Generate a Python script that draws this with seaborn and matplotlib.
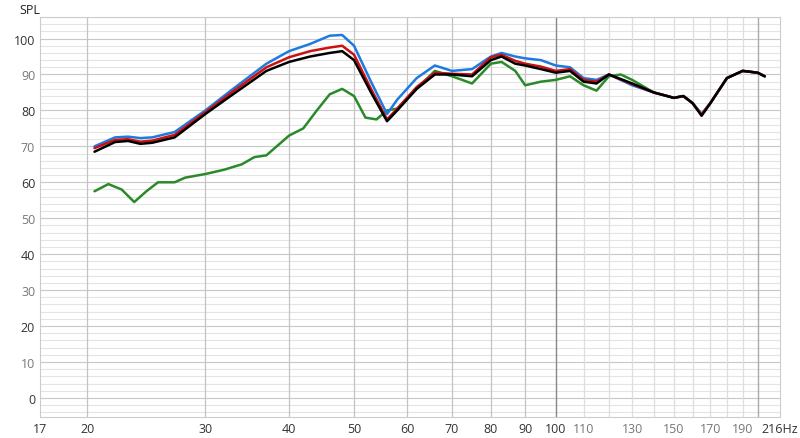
import matplotlib
matplotlib.use("Agg")
import matplotlib.pyplot as plt
import seaborn as sns
from matplotlib.ticker import FixedLocator, NullFormatter

sns.set_style("white")
plt.rcParams['font.family'] = ['Open Sans', 'DejaVu Sans']

# frequencies (Hz) and SPL (dB) for each trace
blue_f = [20.5, 22, 23, 24, 25, 27, 30, 33, 37, 40, 43, 46, 48, 50, 53, 56, 58, 62, 66, 70, 75,
          80, 83, 87, 90, 95, 100, 105, 110, 115, 120, 130, 140, 150, 155, 160, 165, 170, 180, 190, 200, 205]
blue_v = [70, 72.5, 72.7, 72.3, 72.5, 74, 80, 86, 93, 96.5, 98.5, 100.8, 101, 98, 88, 79, 83, 89, 92.5, 91, 91.5,
          95, 96, 95, 94.5, 94, 92.5, 92, 89, 88.5, 90, 87, 85, 83.5, 84, 82, 79, 82, 89, 91, 90.5, 89.5]
red_f = blue_f
red_v = [69.5, 71.8, 72, 71.3, 71.6, 73.2, 79.5, 85.3, 92, 94.8, 96.5, 97.5, 98, 95.5, 86, 77.5, 80.5, 86.5, 90.5, 90.2, 90,
         94.8, 95.5, 93.8, 93, 92.2, 91, 91.5, 88.5, 88, 90, 87.3, 85, 83.5, 84, 82, 78.8, 82, 89, 91, 90.5, 89.5]
black_f = blue_f
black_v = [68.5, 71.2, 71.5, 70.7, 71, 72.5, 79, 84.5, 91, 93.5, 95, 96, 96.5, 94, 85, 77, 80, 86, 90, 90, 89.5,
           94, 95, 93, 92.5, 91.5, 90.5, 91, 88, 87.5, 90, 87.5, 85, 83.5, 84, 82, 78.5, 82, 89, 91, 90.5, 89.5]
green_f = [20.5, 21.5, 22.5, 23.5, 24.5, 25.5, 27, 28, 30, 32, 34, 35.5, 37, 40, 42, 44, 46, 48, 50, 52, 54, 56, 58,
           62, 66, 70, 75, 80, 83, 87, 90, 95, 100, 105, 110, 115, 120, 125, 130, 140, 150, 155, 160, 165, 170,
           180, 190, 200, 205]
green_v = [57.5, 59.5, 58, 54.5, 57.5, 60, 60, 61.3, 62.3, 63.5, 65, 67, 67.5, 73, 75, 80, 84.5, 86, 84, 78, 77.5, 80, 80.5,
           86, 91, 89.5, 87.5, 93, 93.5, 91, 87, 88, 88.5, 89.5, 87, 85.5, 89.5, 90, 88.5, 85, 83.5, 84, 82, 79, 82,
           89, 91, 90.5, 89.5]

x_ticks = [17, 20, 30, 40, 50, 60, 70, 80, 90, 100, 110, 130, 150, 170, 190, 216]
x_labels = ['17', '20', '30', '40', '50', '60', '70', '80', '90', '100', '110', '130', '150', '170', '190', '216Hz']
y_ticks = list(range(0, 101, 10))

fig = plt.figure(figsize=(8, 4.39), dpi=100)
ax = fig.add_axes([0.05, 0.048, 0.925, 0.911])
ax.set_xscale('log')
ax.set_xlim(17, 216)
ax.set_ylim(-5.3, 106)

# grid
for yy in range(-4, 107, 2):
    ax.axhline(yy, color='#e4e4e4' if yy % 10 else '#c8c8c8', lw=0.8, zorder=0)
for xx in [20, 30, 40, 50, 60, 70, 80, 90]:
    ax.axvline(xx, color='#c4c4c4', lw=0.9, zorder=0)
for xx in range(110, 200, 10):
    ax.axvline(xx, color='#dedede', lw=0.9, zorder=0)
ax.axvline(100, color='#888888', lw=1, zorder=0)
ax.axvline(200, color='#aaaaaa', lw=1, zorder=0)

for f, v, c in [(green_f, green_v, '#2a8a2a'), (blue_f, blue_v, '#1f7ae0'),
                (red_f, red_v, '#cc1111'), (black_f, black_v, '#000000')]:
    sns.lineplot(x=f, y=v, ax=ax, color=c, lw=1.8, zorder=3)

ax.xaxis.set_major_locator(FixedLocator(x_ticks))
ax.xaxis.set_minor_formatter(NullFormatter())
ax.set_xticks(x_ticks, x_labels)
ax.set_yticks(y_ticks)
ax.tick_params(which='both', length=0, labelsize=9, colors='#333333')
for lbl in ax.get_xticklabels():
    if lbl.get_text() in ('110', '130', '150', '170', '190'):
        lbl.set_color('#777777')
for lbl in ax.get_yticklabels():
    if lbl.get_text() in ('90', '70', '50', '30', '10'):
        lbl.set_color('#777777')
for s in ax.spines.values():
    s.set_color('#cccccc')
    s.set_linewidth(0.8)
ax.set_xlabel('')
ax.set_ylabel('')
fig.text(0.024, 0.975, 'SPL', fontsize=9, color='#222222', va='center')

fig.savefig('out.png', dpi=100)
